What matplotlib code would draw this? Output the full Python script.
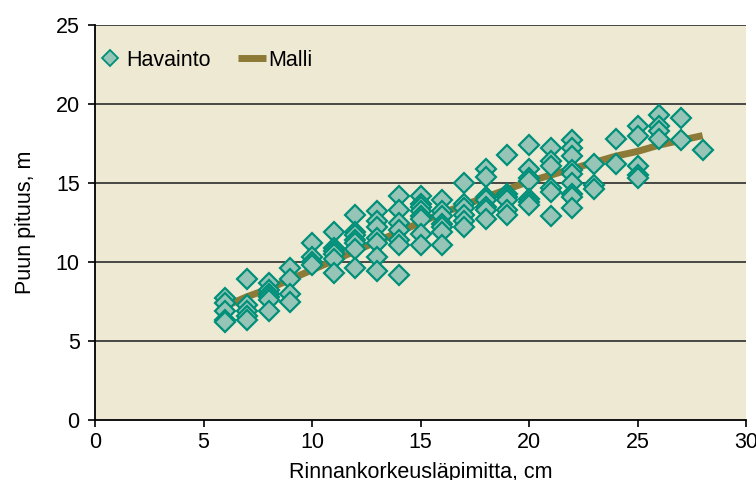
import matplotlib
matplotlib.use("Agg")
import matplotlib.pyplot as plt
from matplotlib.lines import Line2D

plt.rcParams['font.family'] = ['Liberation Sans', 'DejaVu Sans']

# Observations (Havainto): diameter (cm) -> heights (m)
obs_x = [6]*5 + [7]*5 + [8]*6 + [9]*4 + [10]*4 + [11]*6 + [12]*7 + [13]*7 + [14]*7 \
    + [15]*8 + [16]*7 + [17]*6 + [18]*7 + [19]*6 + [20]*7 + [21]*6 + [22]*9 + [23]*3 \
    + [24]*2 + [25]*5 + [26]*4 + [27]*2 + [28]*1
obs_y = [7.7, 7.4, 6.9, 6.3, 6.2,
         8.9, 7.3, 6.9, 6.6, 6.3,
         8.7, 8.2, 8.0, 7.8, 7.6, 6.9,
         9.6, 8.9, 8.0, 7.5,
         11.2, 10.3, 10.0, 9.8,
         11.9, 10.9, 10.7, 10.5, 10.2, 9.3,
         13.0, 11.9, 11.7, 11.4, 11.2, 10.8, 9.6,
         13.2, 12.6, 12.2, 11.5, 11.2, 10.3, 9.4,
         14.2, 13.3, 12.5, 12.0, 11.4, 11.1, 9.2,
         14.2, 13.7, 13.5, 13.2, 12.9, 12.7, 11.8, 11.1,
         13.9, 13.2, 12.9, 12.4, 12.2, 11.9, 11.1,
         15.0, 13.7, 13.4, 13.0, 12.6, 12.2,
         15.9, 15.4, 14.1, 13.9, 13.5, 13.3, 12.7,
         16.8, 14.3, 14.1, 13.9, 13.3, 13.0,
         17.4, 15.9, 15.3, 15.1, 14.0, 13.8, 13.6,
         17.2, 16.4, 16.1, 14.7, 14.4, 12.9,
         17.7, 17.2, 16.7, 15.8, 15.6, 15.0, 14.3, 14.1, 13.4,
         16.2, 14.9, 14.6,
         17.8, 16.2,
         18.6, 18.0, 16.1, 15.5, 15.3,
         19.3, 18.6, 18.3, 17.8,
         19.1, 17.7,
         17.1]

# Model (Malli)
model_x = list(range(6, 29))
model_y = [7.2, 7.8, 8.3, 8.9, 9.5, 10.1, 10.7, 11.3, 11.9, 12.5, 13.1, 13.6,
           14.1, 14.6, 15.1, 15.5, 15.9, 16.3, 16.7, 17.0, 17.4, 17.7, 18.0]

x_ticks = [0, 5, 10, 15, 20, 25, 30]
y_ticks = [0, 5, 10, 15, 20, 25]

FS = 15.5
fig = plt.figure(figsize=(7.56, 4.80), dpi=100)
ax = fig.add_axes([95/756, 60/480, (746-95)/756, (420-25)/480])
ax.set_facecolor('#EEE9D3')

for yv in y_ticks[1:]:
    ax.axhline(yv, color='#3a3a3a', lw=1.3, zorder=1)

ax.plot(model_x, model_y, color='#8C7A36', lw=5, solid_capstyle='butt', zorder=2, label='Malli')
ax.plot(obs_x, obs_y, ls='none', marker='D', markersize=10.5,
        markerfacecolor='#96C4B6', markeredgecolor='#00907A', markeredgewidth=1.6,
        zorder=3, label='Havainto')

ax.set_xlim(0, 30)
ax.set_ylim(0, 25)
ax.set_xticks(x_ticks)
ax.set_yticks(y_ticks)
for s in ['top', 'right']:
    ax.spines[s].set_visible(False)
for s in ['left', 'bottom']:
    ax.spines[s].set_linewidth(1.3)
ax.tick_params(axis='both', direction='out', length=5, width=1.2, labelsize=FS)
ax.tick_params(axis='y', pad=6)
ax.tick_params(axis='x', pad=4)

ax.set_xlabel('Rinnankorkeusläpimitta, cm', fontsize=FS, labelpad=6)
ax.set_ylabel('Puun pituus, m', fontsize=FS, labelpad=14)

handles = [Line2D([], [], ls='none', marker='D', markersize=8.5,
                  markerfacecolor='#96C4B6', markeredgecolor='#00907A', markeredgewidth=1.3),
           Line2D([], [], color='#8C7A36', lw=5, solid_capstyle='butt')]
ax.legend(handles, ['Havainto', 'Malli'], loc='upper left', ncol=2, frameon=False,
          fontsize=FS, bbox_to_anchor=(-0.022, 0.975), handlelength=1.3, handletextpad=0.1,
          columnspacing=1.3, borderaxespad=0.3)

fig.savefig('out.png', dpi=100)
